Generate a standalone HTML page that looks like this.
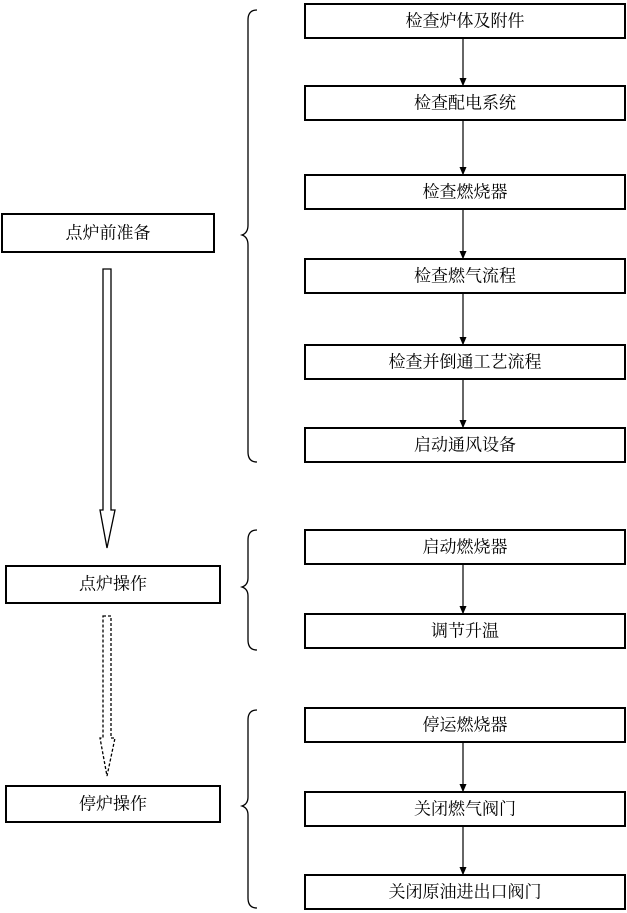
<!DOCTYPE html>
<html><head><meta charset="utf-8"><style>
html,body{margin:0;padding:0;background:#fff;}
svg{display:block}
text{font-family:"Liberation Serif","Noto Serif CJK SC",serif;font-size:17px;fill:#000;text-anchor:middle;dominant-baseline:central}
</style></head><body>
<svg width="627" height="913" viewBox="0 0 627 913" xmlns="http://www.w3.org/2000/svg">
<defs><marker id="a" markerWidth="8" markerHeight="8" refX="6" refY="4" orient="auto"><path d="M0,1 L7,4 L0,7 z" fill="#000"/></marker></defs>
<g fill="none" stroke="#000" stroke-width="2">
<rect x="305" y="4" width="320" height="34"/>
<rect x="305" y="86" width="320" height="34"/>
<rect x="305" y="175" width="320" height="34"/>
<rect x="305" y="259" width="320" height="34"/>
<rect x="305" y="345" width="320" height="34"/>
<rect x="305" y="428" width="320" height="34"/>
<rect x="305" y="530" width="320" height="34"/>
<rect x="305" y="614" width="320" height="34"/>
<rect x="305" y="708" width="320" height="34"/>
<rect x="305" y="792" width="320" height="34"/>
<rect x="305" y="875" width="320" height="34"/>
<rect x="2" y="214" width="212" height="38"/>
<rect x="6" y="566" width="214" height="37"/>
<rect x="6" y="786" width="214" height="36"/>
</g>
<g stroke="#000" stroke-width="1.2" marker-end="url(#a)">
<line x1="463" y1="38" x2="463" y2="85"/>
<line x1="463" y1="120" x2="463" y2="174"/>
<line x1="463" y1="209" x2="463" y2="258"/>
<line x1="463" y1="293" x2="463" y2="344"/>
<line x1="463" y1="379" x2="463" y2="427"/>
<line x1="463" y1="564" x2="463" y2="613"/>
<line x1="463" y1="742" x2="463" y2="791"/>
<line x1="463" y1="826" x2="463" y2="874"/>
</g>
<g fill="none" stroke="#000" stroke-width="1.3">
<path d="M103,269 L111,269 L111,510 L115,510 L107,548 L100,510 L103,510 Z"/>
<path d="M103,616 L111,616 L111,738 L115,738 L107,776 L100,738 L103,738 Z" stroke-dasharray="3,2"/>
<path d="M257,10 Q248,10 248,20 L248,225 Q248,233 242,235 Q248,237 248,245 L248,452 Q248,462 257,462"/>
<path d="M257,530 Q248,530 248,540 L248,578 Q248,585 242,587 Q248,589 248,596 L248,640 Q248,650 257,650"/>
<path d="M257,710 Q248,710 248,720 L248,797 Q248,804 242,806 Q248,808 248,815 L248,898 Q248,908 257,908"/>
</g>
<text x="465" y="21">检查炉体及附件</text>
<text x="465" y="103">检查配电系统</text>
<text x="465" y="192">检查燃烧器</text>
<text x="465" y="276">检查燃气流程</text>
<text x="465" y="362">检查并倒通工艺流程</text>
<text x="465" y="445">启动通风设备</text>
<text x="465" y="547">启动燃烧器</text>
<text x="465" y="631">调节升温</text>
<text x="465" y="725">停运燃烧器</text>
<text x="465" y="809">关闭燃气阀门</text>
<text x="465" y="892">关闭原油进出口阀门</text>
<text x="108" y="233">点炉前准备</text>
<text x="113" y="584">点炉操作</text>
<text x="113" y="804">停炉操作</text>
</svg>
</body></html>
